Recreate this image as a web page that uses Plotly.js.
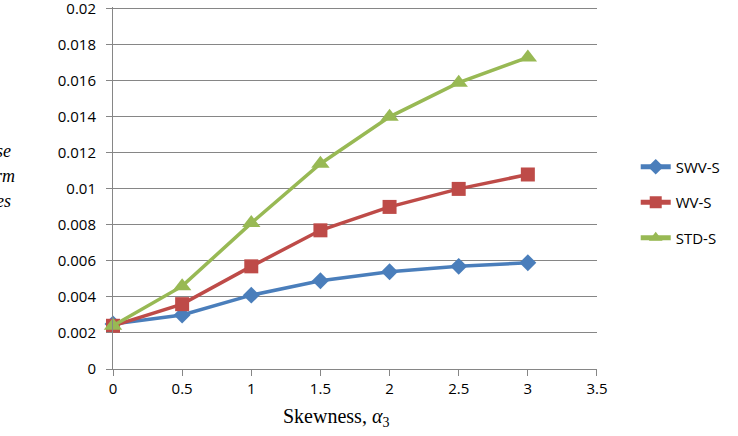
<!DOCTYPE html>
<html><head><meta charset="utf-8">
<script src="https://cdn.plot.ly/plotly-3.0.1.min.js"></script>
<style>body{margin:0;background:#fff}#c{width:738px;height:436px}</style>
</head><body><div id="c"></div>
<script>
const skew = [0, 0.5, 1, 1.5, 2, 2.5, 3];
const swvS = [0.0025, 0.0030, 0.0041, 0.0049, 0.0054, 0.0057, 0.0059];
const wvS  = [0.0024, 0.0036, 0.0057, 0.0077, 0.0090, 0.0100, 0.0108];
const stdS = [0.0024, 0.0046, 0.0081, 0.0114, 0.0140, 0.0159, 0.0173];
const names = ['SWV-S', 'WV-S', 'STD-S'];
const yTicks = [0,0.002,0.004,0.006,0.008,0.01,0.012,0.014,0.016,0.018,0.02];
const xTicks = [0,0.5,1,1.5,2,2.5,3,3.5];

const series = [
  {y: swvS, color: '#4a7ebb', symbol: 'diamond', size: 13},
  {y: wvS,  color: '#be4b48', symbol: 'square', size: 14},
  {y: stdS, color: '#98b954', symbol: 'triangle-up', size: 16}
];
const data = series.map((s, i) => ({
  x: skew, y: s.y, name: names[i], legendgroup: 'g' + i, type: 'scatter', mode: 'lines+markers',
  line: {color: s.color, width: 3.5},
  marker: {color: s.color, symbol: s.symbol, size: s.size},
  cliponaxis: false
}));

const grid = '#868686';
const layout = {
  width: 738, height: 436,
  margin: {l: 113, r: 141, t: 7, b: 67},
  paper_bgcolor: '#fff', plot_bgcolor: '#fff',
  font: {family: 'Open Sans, sans-serif', size: 15, color: '#000'},
  xaxis: {
    range: [0, 3.5001], tickvals: xTicks, ticktext: xTicks.map(String),
    showgrid: false, zeroline: false, showline: true, linecolor: grid, linewidth: 1,
    ticks: 'outside', ticklen: 6, tickcolor: grid,
    tickfont: {size: 15}, ticklabelstandoff: 0, ticklabeloverflow: 'allow'
  },
  yaxis: {
    range: [0, 0.0201], tickvals: yTicks, ticktext: yTicks.map(String),
    showgrid: true, gridcolor: grid, gridwidth: 1, zeroline: false,
    showline: true, linecolor: grid, linewidth: 1,
    ticks: 'outside', ticklen: 6, tickcolor: grid,
    tickfont: {size: 15}, ticklabelstandoff: 7, ticklabeloverflow: 'allow'
  },
  legend: {x: 1.08, y: 0.46, xanchor: 'left', yanchor: 'middle', font: {size: 15},
    tracegroupgap: 13, itemsizing: 'constant', bgcolor: 'rgba(0,0,0,0)'},
  annotations: [
    {text: '<i>se</i>', x: -0.206, y: 0.603},
    {text: '<i>rm</i>', x: -0.198, y: 0.533},
    {text: '<i>es</i>', x: -0.206, y: 0.464}
  ].map(a => Object.assign({xref: 'paper', yref: 'paper', xanchor: 'right', yanchor: 'middle',
    showarrow: false, font: {family: 'Liberation Serif, serif', size: 18, color: '#000'}}, a)).concat([
    {text: 'Skewness, <i>α</i><sub>3</sub>', xref: 'paper', yref: 'paper', x: 0.46, y: -0.093,
     xanchor: 'center', yanchor: 'top', showarrow: false,
     font: {family: 'Liberation Serif, serif', size: 20, color: '#000'}}
  ])
};
Plotly.newPlot('c', data, layout, {displayModeBar: false, staticPlot: true});
</script></body></html>
